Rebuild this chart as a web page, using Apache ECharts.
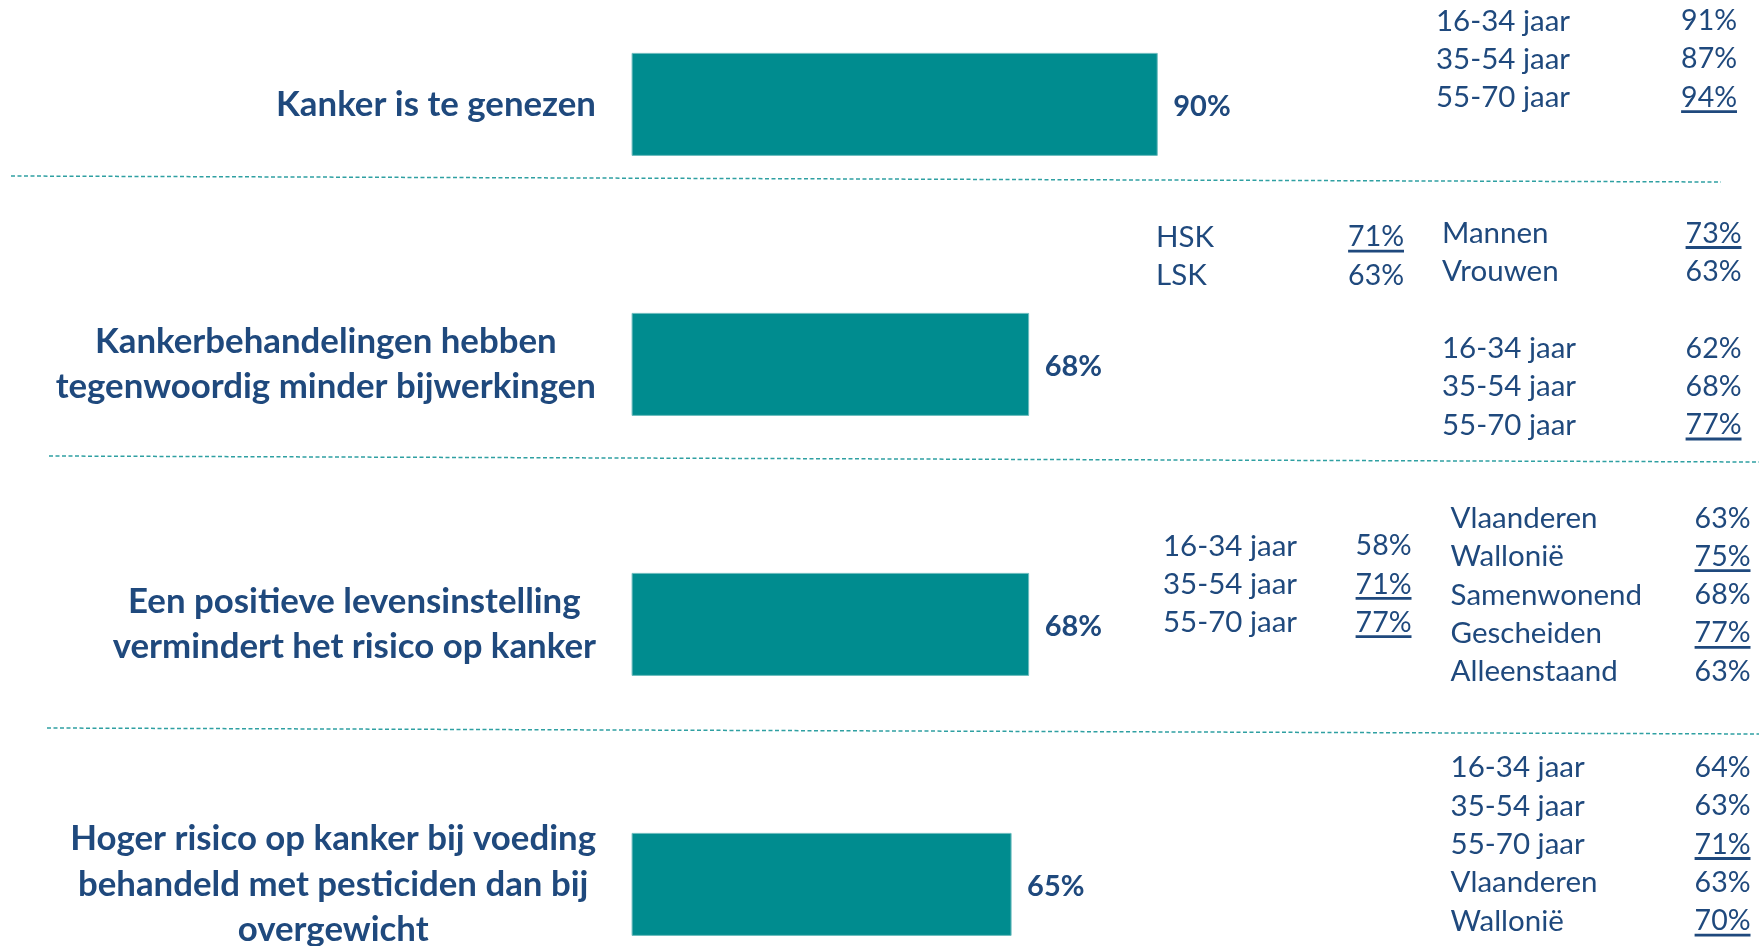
<!DOCTYPE html>
<html><head><meta charset="utf-8">
<script src="https://cdn.jsdelivr.net/npm/echarts@6/dist/echarts.min.js"></script>
<style>html,body{margin:0;padding:0;background:#fff}#c{width:1759px;height:946px}</style>
</head><body><div id="c"></div>
<script>
// ---------------- data ----------------
const categories = [
  'Kanker is te genezen',
  'Kankerbehandelingen hebben\ntegenwoordig minder bijwerkingen',
  'Een positieve levensinstelling\nvermindert het risico op kanker',
  'Hoger risico op kanker bij voeding\nbehandeld met pesticiden dan bij\novergewicht'
];
const totals = [90, 68, 68, 65];

const ageLabels = ['16-34 jaar', '35-54 jaar', '55-70 jaar'];

const g1AgeValues = [91, 87, 94];
const g1AgeSig = [false, false, true];

const g2EduLabels = ['HSK', 'LSK'];
const g2EduValues = [71, 63];
const g2EduSig = [true, false];

const g2Labels = ['Mannen', 'Vrouwen', '', '16-34 jaar', '35-54 jaar', '55-70 jaar'];
const g2Values = [73, 63, null, 62, 68, 77];
const g2Sig = [true, false, false, false, false, true];

const g3AgeValues = [58, 71, 77];
const g3AgeSig = [false, true, true];

const g3Labels = ['Vlaanderen', 'Wallonië', 'Samenwonend', 'Gescheiden', 'Alleenstaand'];
const g3Values = [63, 75, 68, 77, 63];
const g3Sig = [false, true, false, true, false];

const g4Labels = ['16-34 jaar', '35-54 jaar', '55-70 jaar', 'Vlaanderen', 'Wallonië'];
const g4Values = [64, 63, 71, 63, 70];
const g4Sig = [false, false, true, false, true];

// ---------------- layout / style ----------------
const TEXT = '#1F497D';
const BAR = '#008C8F';
const FONT = 'Lato';
const LABEL_SIZE = 29.5;
const VALUE_SIZE = 28.5;
const rowStep = 38.3;
const columns = [
  { cat: 0, labels: ageLabels,   values: g1AgeValues, sig: g1AgeSig,  labelX: 1436,   valueRight: 1737,   dy: -84.4 },
  { cat: 1, labels: g2EduLabels, values: g2EduValues, sig: g2EduSig,  labelX: 1156,   valueRight: 1404,   dy: -128.3 },
  { cat: 1, labels: g2Labels,    values: g2Values,    sig: g2Sig,     labelX: 1442,   valueRight: 1741.5, dy: -131.9 },
  { cat: 2, labels: ageLabels,   values: g3AgeValues, sig: g3AgeSig,  labelX: 1163,   valueRight: 1411.5, dy: -79.3 },
  { cat: 2, labels: g3Labels,    values: g3Values,    sig: g3Sig,     labelX: 1450.6, valueRight: 1750.5, dy: -107 },
  { cat: 3, labels: g4Labels,    values: g4Values,    sig: g4Sig,     labelX: 1450.6, valueRight: 1750.5, dy: -117.5 }
];
const dividers = [
  [11, 176, 1721, 182],
  [49, 456, 1759, 462],
  [47, 728, 1759, 734]
];

const chart = echarts.init(document.getElementById('c'), null, { renderer: 'canvas' });

const option = {
  animation: false,
  backgroundColor: '#ffffff',
  grid: { left: 631.6, width: 584.6, top: -25.6, height: 1040, containLabel: false, outerBoundsMode: 'none' },
  xAxis: { type: 'value', min: 0, max: 100, show: false },
  yAxis: {
    type: 'category', inverse: true, data: categories,
    axisLine: { show: false }, axisTick: { show: false }, splitLine: { show: false },
    axisLabel: {
      margin: 35.6, align: 'right', hideOverlap: false,
      formatter: v => v.split('\n').map(l => '{c|' + l + '}').join('\n'),
      rich: {
        c: { align: 'center', fontFamily: FONT, fontWeight: 'bold', fontSize: 34.8, lineHeight: 45.5, color: TEXT }
      }
    }
  },
  series: [{
    type: 'bar', data: totals, barWidth: 103,
    itemStyle: { color: BAR, borderColor: '#6DBCBE', borderWidth: 1 },
    label: {
      show: true, position: 'right', distance: 15.5, offset: [0, 2],
      formatter: p => p.value + '%',
      fontFamily: FONT, fontWeight: 'bold', fontSize: 29, color: TEXT
    }
  }]
};
chart.setOption(option);

// breakdown annotations positioned from the category axis
const ctx = document.createElement('canvas').getContext('2d');
ctx.font = VALUE_SIZE + 'px ' + FONT;
const graphics = [];
dividers.forEach(d => {
  graphics.push({ type: 'line', silent: true,
    shape: { x1: d[0], y1: d[1], x2: d[2], y2: d[3] },
    style: { stroke: '#2FA0A2', lineWidth: 1.5, lineDash: [4, 2.5] } });
});
columns.forEach(col => {
  const cy = chart.convertToPixel({ yAxisIndex: 0 }, col.cat);
  col.labels.forEach((lab, i) => {
    const y = cy + col.dy + i * rowStep + 1;
    if (lab) {
      graphics.push({ type: 'text', silent: true,
        style: { text: lab, x: col.labelX, y: y, fill: TEXT, fontFamily: FONT, fontSize: LABEL_SIZE, align: 'left', verticalAlign: 'middle' } });
    }
    const v = col.values[i];
    if (v !== null && v !== undefined) {
      const t = v + '%';
      graphics.push({ type: 'text', silent: true,
        style: { text: t, x: col.valueRight, y: y, fill: TEXT, fontFamily: FONT, fontSize: VALUE_SIZE, align: 'right', verticalAlign: 'middle' } });
      if (col.sig[i]) {
        const w = ctx.measureText(t).width;
        graphics.push({ type: 'line', silent: true,
          shape: { x1: col.valueRight - w, y1: y + 14, x2: col.valueRight, y2: y + 14 },
          style: { stroke: TEXT, lineWidth: 2.8 } });
      }
    }
  });
});
chart.setOption({ graphic: graphics });
</script>
</body></html>
